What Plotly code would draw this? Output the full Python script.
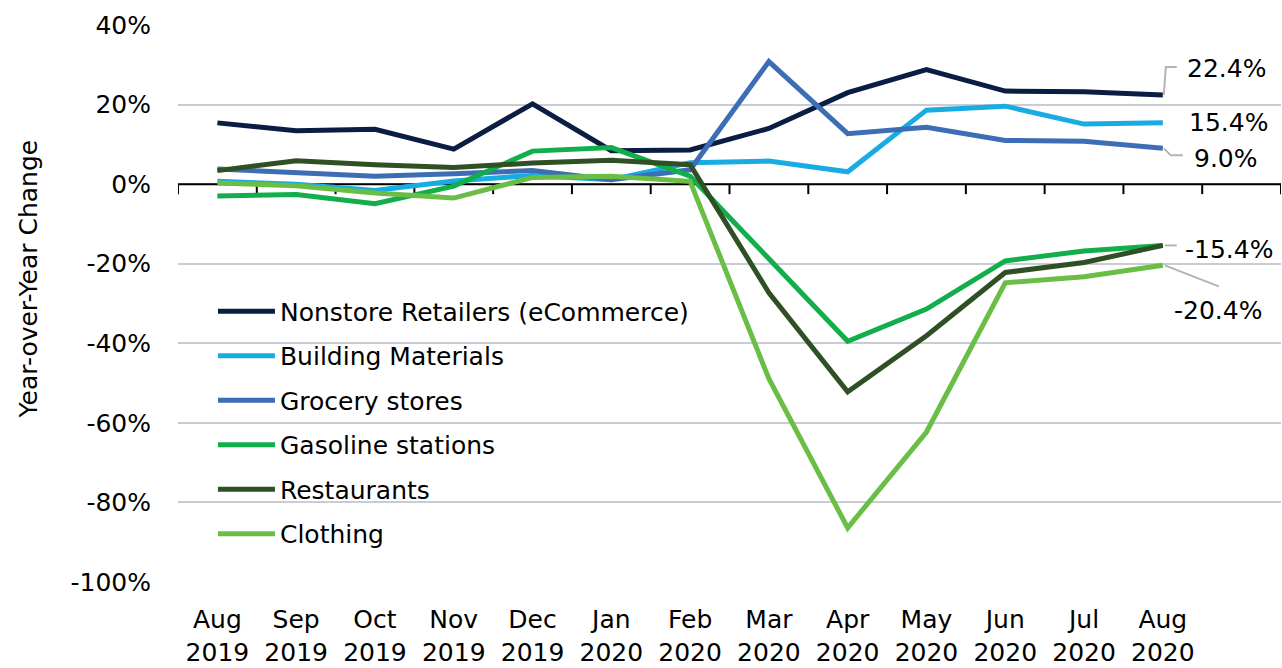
import plotly.graph_objects as go

months = ["Aug<br>2019", "Sep<br>2019", "Oct<br>2019", "Nov<br>2019", "Dec<br>2019",
          "Jan<br>2020", "Feb<br>2020", "Mar<br>2020", "Apr<br>2020", "May<br>2020",
          "Jun<br>2020", "Jul<br>2020", "Aug<br>2020"]

nonstore = [15.4, 13.4, 13.8, 8.8, 20.2, 8.4, 8.6, 14.0, 23.0, 28.8, 23.4, 23.2, 22.4]
building = [0.7, 0.0, -1.6, 0.8, 2.2, 1.1, 5.4, 5.8, 3.1, 18.6, 19.6, 15.1, 15.4]
grocery = [3.8, 2.8, 2.0, 2.6, 3.4, 1.1, 3.6, 30.8, 12.7, 14.3, 11.0, 10.8, 9.0]
gasoline = [-3.0, -2.6, -4.9, -0.5, 8.3, 9.2, 2.0, -18.9, -39.5, -31.4, -19.3, -16.8, -15.4]
restaurants = [3.4, 5.9, 4.9, 4.2, 5.3, 6.0, 4.9, -27.3, -52.2, -38.1, -22.2, -19.7, -15.4]
clothing = [0.3, -0.4, -2.2, -3.5, 1.7, 2.0, 0.7, -48.9, -86.4, -62.3, -24.8, -23.3, -20.4]

series_names = ["Nonstore Retailers (eCommerce)", "Building Materials", "Grocery stores",
                "Gasoline stations", "Restaurants", "Clothing"]
series_values = [nonstore, building, grocery, gasoline, restaurants, clothing]
series_colors = ["#0B1D42", "#19ACE3", "#3D6DB5", "#12AE4B", "#2F5024", "#6BBE45"]

y_ticks = [-100, -80, -60, -40, -20, 0, 20, 40]
y_tick_text = ["-100%", "-80%", "-60%", "-40%", "-20%", "0%", "20%", "40%"]

# end labels: (series index, label text, xshift, yshift)
end_labels = [(0, "22.4%", 22, 27), (1, "15.4%", 24, 0), (2, "9.0%", 29, -10),
              (4, "-15.4%", 20, -4), (5, "-20.4%", 9, -45)]
# leader paths in pixels relative to last point
leaders = {0: "M1,0 L3,28 L14,28", 2: "M1,0 L8,-7 L20,-7", 4: "M2,0 L14,0", 5: "M2,0 L56,-21"}

FONT = "DejaVu Sans, sans-serif"
FS = 25

fig = go.Figure()
for name, vals, col in zip(series_names, series_values, series_colors):
    fig.add_trace(go.Scatter(x=months, y=vals, mode="lines", name=name, legendgroup=name,
                             line=dict(color=col, width=5)))

shapes = []
# black axis line at zero with downward ticks at category boundaries
shapes.append(dict(type="line", xref="x", yref="y", x0=-0.5, x1=len(months) + 0.5, y0=0, y1=0,
                   line=dict(color="black", width=2), layer="between"))
for i in range(len(months) + 2):
    shapes.append(dict(type="line", xref="x", yref="y", ysizemode="pixel", yanchor=0,
                       x0=i - 0.5, x1=i - 0.5, y0=0, y1=-10,
                       line=dict(color="black", width=2), layer="between"))

annotations = []
last = len(months) - 1
for idx, txt, xs, ys in end_labels:
    annotations.append(dict(x=last, y=series_values[idx][-1], xref="x", yref="y", text=txt,
                            showarrow=False, xanchor="left", yanchor="middle", xshift=xs, yshift=ys,
                            font=dict(size=FS, color="black", family=FONT)))
for idx, path in leaders.items():
    shapes.append(dict(type="path", xref="x", yref="y", xsizemode="pixel", ysizemode="pixel",
                       xanchor=last, yanchor=series_values[idx][-1], path=path,
                       line=dict(color="#B3B3B3", width=2), layer="above"))

annotations.append(dict(text="Year-over-Year Change", xref="paper", yref="paper",
                        x=-0.136, y=0.545, textangle=-90, showarrow=False,
                        xanchor="center", yanchor="middle",
                        font=dict(size=FS, color="black", family=FONT)))

fig.update_layout(
    width=1282, height=668,
    margin=dict(l=178, r=1, t=25, b=83),
    paper_bgcolor="white", plot_bgcolor="white",
    font=dict(family=FONT, size=FS, color="black"),
    showlegend=True,
    legend=dict(x=0.0317, y=0.527, xanchor="left", yanchor="top", bgcolor="rgba(0,0,0,0)",
                traceorder="grouped", tracegroupgap=9, itemwidth=57,
                font=dict(size=FS, family=FONT)),
    xaxis=dict(type="category", categoryorder="array", categoryarray=months,
               range=[-0.5, len(months) + 0.5], showgrid=False, showline=False, zeroline=False,
               ticks="", tickfont=dict(size=FS, family=FONT), ticklabelstandoff=20),
    yaxis=dict(range=[-100, 40], tickvals=y_ticks, ticktext=y_tick_text, showgrid=True,
               gridcolor="#C9CCD3", gridwidth=2, zeroline=False, showline=False, ticks="",
               tickfont=dict(size=FS, family=FONT), ticklabelstandoff=26),
    shapes=shapes,
    annotations=annotations,
)

fig.write_html("out.html")
